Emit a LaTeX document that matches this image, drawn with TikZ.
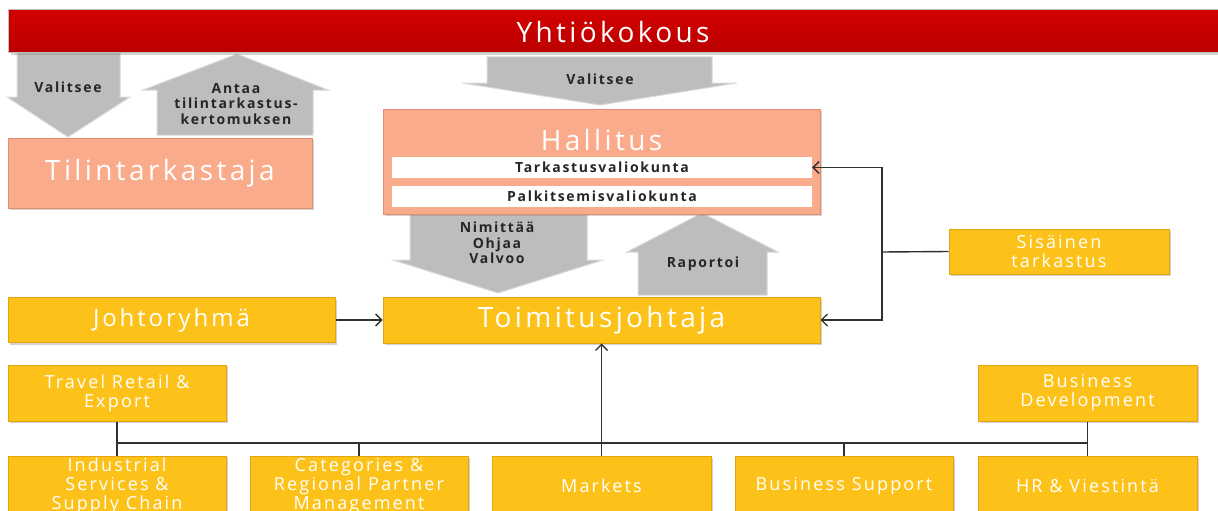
\documentclass[tikz,border=0pt]{standalone}
\usepackage{fontspec}
\setmainfont[LetterSpace=12]{Open Sans}
\usetikzlibrary{calc,positioning,arrows.meta,shadows}
\definecolor{kelta}{HTML}{FDC219}
\definecolor{keltareuna}{HTML}{E2A50E}
\definecolor{lohi}{HTML}{F9AB8B}
\definecolor{lohireuna}{HTML}{E48E70}
\definecolor{harmaa}{HTML}{BDBDBD}
\definecolor{harmaareuna}{HTML}{D9D9D9}
\definecolor{viiva}{HTML}{303030}
\definecolor{punainen}{HTML}{CC0000}

\begin{document}
\begin{tikzpicture}[x=1pt,y=-1pt,
varjo/.style={drop shadow={shadow xshift=2pt,shadow yshift=-2pt,opacity=.35}},
keltabox/.style={draw=keltareuna,fill=kelta,line width=1pt,text=white,align=center,inner sep=0pt,varjo,font=\fontsize{18}{19}\selectfont},
lohibox/.style={draw=lohireuna,fill=lohi,line width=1pt,text=white,align=center,inner sep=0pt,varjo},
nuoli/.style={fill=harmaa,draw=harmaareuna,line width=1pt},
lab/.style={text=black!85,align=center,font=\fontsize{14}{15.5}\selectfont\bfseries},
liitos/.style={draw=viiva,line width=1.4pt},
kohde/.style={liitos,-{Straight Barb[length=6pt,width=12pt]}}]
\useasboundingbox (0,0) rectangle (1218,511);
\clip (0,0) rectangle (1218,511);
\fill[nuoli] (17,53)--(120,53)--(120,97)--(130,97)--(68,137)--(7,97)--(17,97)--cycle;
\fill[nuoli] (157,135)--(313,135)--(313,90)--(328,90)--(237,54)--(143,90)--(157,90)--cycle;
\fill[nuoli] (487,57)--(712,57)--(712,83)--(737,83)--(600,105)--(462,83)--(487,83)--cycle;
\fill[nuoli] (410,214)--(587,214)--(587,260)--(603,260)--(498,293)--(393,260)--(410,260)--cycle;
\fill[nuoli] (638,295)--(767,295)--(767,252)--(778,252)--(702,213)--(627,252)--(638,252)--cycle;
\node[lab] (valitsee) at (68,87) {Valitsee};
\node[lab] (antaa) at (236,104) {Antaa\\tilintarkastus-\\kertomuksen};
\node[lab] (valitseeh) at (600,79) {Valitsee};
\node[lab] (nimittaa) at (497,243) {Nimittää\\Ohjaa\\Valvoo};
\node[lab] (raportoi) at (703,264) {Raportoi};
\node[draw=black!25,top color=punainen!90!red,bottom color=punainen!92!black,line width=1pt,minimum width=1220pt,minimum height=43pt,anchor=west,inner sep=0pt,varjo] (yhtio) at (8,31.5) {};
\node[text=white,font=\fontsize{28}{30}\selectfont] (yhtionimi) at (613,32) {Yhtiökokous};
\node[lohibox,minimum width=304pt,minimum height=70pt,font=\fontsize{28}{30}\selectfont] (tilin) at (160,173) {Tilintarkastaja};
\node[lohibox,minimum width=437pt,minimum height=105pt] (hall) at (601.5,161.5) {};
\node[text=white,font=\fontsize{28}{30}\selectfont] (hallnimi) at (601.5,140) {Hallitus};
\node[fill=white,minimum width=420pt,minimum height=21pt,inner sep=0pt,font=\fontsize{14}{15}\selectfont\bfseries,text=black!85] (tark) at (602,167.5) {Tarkastusvaliokunta};
\node[fill=white,minimum width=420pt,minimum height=21pt,inner sep=0pt,font=\fontsize{14}{15}\selectfont\bfseries,text=black!85] (palk) at (602,196.5) {Palkitsemisvaliokunta};
\node[keltabox,minimum width=437pt,minimum height=46pt,font=\fontsize{28}{30}\selectfont] (toim) at (601.5,320) {Toimitusjohtaja};
\node[keltabox,minimum width=327pt,minimum height=45pt,font=\fontsize{24}{26}\selectfont] (johto) at (171.5,320) {Johtoryhmä};
\node[keltabox,minimum width=220pt,minimum height=45pt] (sis) at (1059,251.5) {Sisäinen\\tarkastus};
\node[keltabox,minimum width=218pt,minimum height=56pt] (travel) at (117,393) {Travel Retail \&\\Export};
\node[keltabox,minimum width=219pt,minimum height=56pt] (busdev) at (1087.5,393) {Business\\Development};
\node[keltabox,minimum width=218pt,minimum height=60pt] (indus) at (117,486) {Industrial\\Services \&\\Supply Chain};
\node[keltabox,minimum width=218pt,minimum height=60pt] (categ) at (359,486) {Categories \&\\Regional Partner\\Management};
\node[keltabox,minimum width=219pt,minimum height=60pt] (markets) at (601.5,486) {Markets};
\node[keltabox,minimum width=218pt,minimum height=60pt] (bsup) at (844,486) {Business Support};
\node[keltabox,minimum width=219pt,minimum height=60pt] (hr) at (1087.5,486) {HR \& Viestintä};
\coordinate (haara) at (882,252);
\coordinate (vaylav) at (117,443);\coordinate (vaylao) at (1087.5,443);
\draw[kohde] (johto.east) -- (toim.west);
\draw[liitos] (sis.west) -- (haara);
\draw[kohde] (haara) |- (tark.east);
\draw[kohde] (haara) |- (toim.east);
\draw[liitos] (travel.south) -- (indus.north) (busdev.south) -- (hr.north) (vaylav) -- (vaylao);
\draw[liitos] (categ.north) -- (categ.north |- vaylav) (bsup.north) -- (bsup.north |- vaylav);
\draw[kohde] (markets.north) -- (toim.south);
\end{tikzpicture}
\end{document}
